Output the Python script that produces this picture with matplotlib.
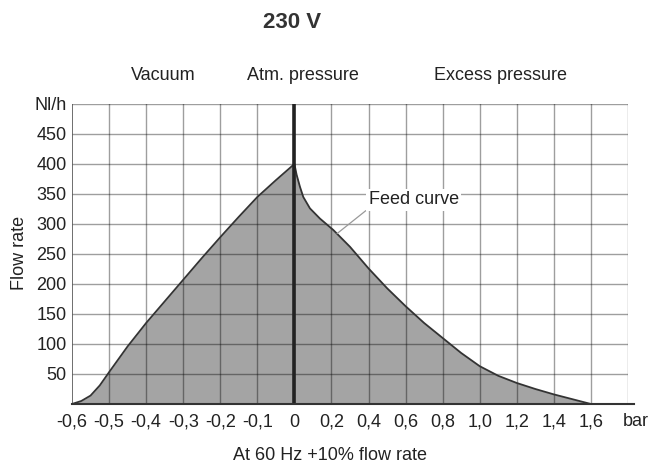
import numpy as np
import matplotlib
matplotlib.use("Agg")
import matplotlib.pyplot as plt

plt.rcParams['font.family'] = ['Liberation Sans', 'DejaVu Sans']

# feed curve, vacuum side (bar, Nl/h)
vac_p = [-0.6, -0.575, -0.55, -0.525, -0.5, -0.45, -0.4, -0.35, -0.3, -0.25,
         -0.2, -0.15, -0.1, -0.05, 0.0]
vac_q = [0, 5, 14, 31, 53, 96, 135, 171, 207, 243, 278, 312, 345, 373, 400]
# feed curve, excess pressure side
exc_p = [0.0, 0.012, 0.03, 0.048, 0.084, 0.138, 0.21, 0.3, 0.4, 0.5, 0.6, 0.7,
         0.8, 0.9, 1.0, 1.1, 1.2, 1.3, 1.4, 1.5, 1.6]
exc_q = [400, 382, 362, 345, 326, 309, 290, 262, 226, 193, 163, 135,
         110, 85, 63, 47, 35, 25, 16, 8, 0]

x_ticks = [-0.6, -0.5, -0.4, -0.3, -0.2, -0.1, 0, 0.2, 0.4, 0.6, 0.8, 1.0, 1.2, 1.4, 1.6]
x_labels = ['-0,6', '-0,5', '-0,4', '-0,3', '-0,2', '-0,1', '0', '0,2', '0,4', '0,6',
            '0,8', '1,0', '1,2', '1,4', '1,6']
y_ticks = [50, 100, 150, 200, 250, 300, 350, 400, 450, 500]
y_labels = ['50', '100', '150', '200', '250', '300', '350', '400', '450', 'Nl/h']
grid_x = x_ticks[1:] + [1.8]


# vacuum side has 0.1 bar per grid cell, pressure side 0.2 bar
def forward(x):
    x = np.asarray(x, dtype=float)
    return np.where(x <= 0, (x + 0.6) / 0.1, 6 + x / 0.2)


def inverse(i):
    i = np.asarray(i, dtype=float)
    return np.where(i <= 6, i * 0.1 - 0.6, (i - 6) * 0.2)


fig = plt.figure(figsize=(6.56, 4.66), dpi=100)
ax = fig.add_axes([72 / 656, 1 - 404 / 466, 556 / 656, 300 / 466])
ax.set_xscale('function', functions=(forward, inverse))

p = vac_p + exc_p[1:]
q = vac_q + exc_q[1:]
ax.fill_between(p, q, 0, color='#a4a4a4', lw=0, zorder=1)
ax.plot(p, q, color='#333333', lw=1.3, zorder=3)

for gx in grid_x:
    ax.axvline(gx, color='k', alpha=0.38, lw=1, zorder=2)
for gy in y_ticks:
    ax.axhline(gy, color='k', alpha=0.38, lw=1, zorder=2)
ax.axvline(-0.6, color='#555555', lw=1.2, zorder=4)
ax.axvline(0, color='#222222', lw=2.6, zorder=4)
ax.plot([-0.6, 1.83], [0, 0], color='#333333', lw=1.5, clip_on=False, zorder=5)

ax.set_xlim(-0.6, 1.8)
ax.set_ylim(0, 500)
for s in ax.spines.values():
    s.set_visible(False)
ax.set_xticks(x_ticks)
ax.set_xticklabels(x_labels)
ax.set_yticks(y_ticks)
ax.set_yticklabels(y_labels)
ax.tick_params(axis='x', length=0, pad=7, labelsize=13, colors='#222222')
ax.tick_params(axis='y', length=0, pad=4, labelsize=13, colors='#222222')

ax.annotate('Feed curve', xy=(0.23, 284), xytext=(0.40, 340),
            ha='left', va='center', fontsize=13, color='#222222', zorder=6,
            bbox=dict(boxstyle='square,pad=0.15', fc='white', ec='none'),
            arrowprops=dict(arrowstyle='-', color='#999999', lw=0.9,
                            relpos=(0, 0), shrinkA=0, shrinkB=0))

fig.text(292 / 656, 1 - 22 / 466, '230 V', ha='center', va='center',
         fontsize=16, fontweight='bold', color='#333333')
fig.text(163 / 656, 1 - 76 / 466, 'Vacuum', ha='center', va='center', fontsize=13, color='#222222')
fig.text(303 / 656, 1 - 76 / 466, 'Atm. pressure', ha='center', va='center', fontsize=13, color='#222222')
fig.text(501 / 656, 1 - 76 / 466, 'Excess pressure', ha='center', va='center', fontsize=13, color='#222222')
fig.text(20 / 656, 1 - 253 / 466, 'Flow rate', ha='center', va='center', rotation=90,
         fontsize=13, color='#222222')
fig.text(636 / 656, 1 - 421 / 466, 'bar', ha='center', va='center', fontsize=13, color='#222222')
fig.text(330 / 656, 1 - 455 / 466, 'At 60 Hz +10% flow rate', ha='center', va='center',
         fontsize=13, color='#222222')

fig.savefig('out.png', dpi=100)
